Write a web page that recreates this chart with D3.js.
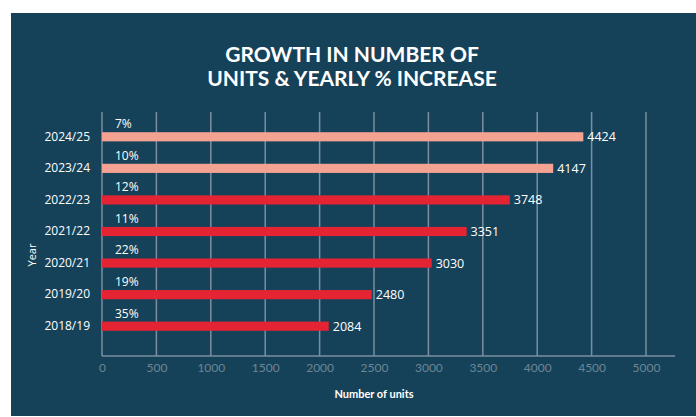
<!DOCTYPE html>
<html><head><meta charset="utf-8">
<script src="https://cdn.jsdelivr.net/npm/d3@7"></script>
<style>body{margin:0;background:#fff}svg{display:block}</style>
</head><body>
<svg id="c" width="696" height="417"></svg>
<script>
const years = ["2024/25","2023/24","2022/23","2021/22","2020/21","2019/20","2018/19"];
const units = [4424,4147,3748,3351,3030,2480,2084];
const pctIncrease = ["7%","10%","12%","11%","22%","19%","35%"];
const projected = [true,true,false,false,false,false,false];
const xTicks = [0,500,1000,1500,2000,2500,3000,3500,4000,4500,5000];
const titleLines = ["GROWTH IN NUMBER OF","UNITS & YEARLY % INCREASE"];

const svg = d3.select("#c");
svg.append("rect").attr("x",11).attr("y",13).attr("width",685).attr("height",403).attr("fill","#164259");

const x = d3.scaleLinear().domain([0,5000]).range([102,646]);
const y = d3.scaleBand().domain(years).range([121,342]).paddingInner(0.71).paddingOuter(0.355);

// title
svg.append("g").selectAll("text").data(titleLines).join("text")
  .attr("x",352).attr("y",(d,i)=>62+i*24).attr("text-anchor","middle")
  .attr("fill","#fff").attr("font-family","Lato, 'Open Sans', sans-serif")
  .attr("font-weight","700").attr("font-size",21).text(d=>d);

// gridlines
svg.append("g").selectAll("line").data(xTicks).join("line")
  .attr("x1",d=>x(d)).attr("x2",d=>x(d)).attr("y1",112).attr("y2",356)
  .attr("stroke","#7b8fa0").attr("stroke-width",1.5);

// axis
const ax = svg.append("g").attr("transform","translate(0,356)")
  .call(d3.axisBottom(x).tickValues(xTicks).tickSize(0).tickPadding(7).tickFormat(d3.format("d")));
ax.select(".domain").attr("d","M102,0H675").attr("stroke","#7b8fa0").attr("stroke-width",1.5);
ax.selectAll("text").attr("fill","#6c8596").attr("font-family","Lato, sans-serif").attr("font-size",12);

svg.append("text").attr("x",374).attr("y",398).attr("text-anchor","middle")
  .attr("fill","#fff").attr("font-family","Lato, sans-serif").attr("font-weight","700")
  .attr("font-size",11).text("Number of units");

// y labels
const ya = svg.append("g").attr("transform","translate(90,0)")
  .call(d3.axisLeft(y).tickSize(0).tickPadding(0));
ya.select(".domain").remove();
ya.selectAll("text").attr("fill","#fff").attr("font-family","'Open Sans', sans-serif").attr("font-size",12);

svg.append("text").attr("transform","translate(36,255) rotate(-90)").attr("text-anchor","middle")
  .attr("fill","#fff").attr("font-family","'Open Sans', sans-serif").attr("font-size",11).text("Year");

// bars
svg.append("g").selectAll("rect").data(years).join("rect")
  .attr("x",x(0)).attr("y",d=>y(d)).attr("height",y.bandwidth())
  .attr("width",(d,i)=>x(units[i])-x(0))
  .attr("fill",(d,i)=>projected[i]?"#f4a292":"#e52433");

// value labels
svg.append("g").selectAll("text").data(years).join("text")
  .attr("x",(d,i)=>x(units[i])+4).attr("y",d=>y(d)+y.bandwidth()/2).attr("dy","0.36em")
  .attr("fill","#fff").attr("font-family","'Open Sans', sans-serif").attr("font-size",12.5)
  .text((d,i)=>units[i]);

// pct labels
svg.append("g").selectAll("text").data(years).join("text")
  .attr("x",115).attr("y",d=>y(d)-4)
  .attr("fill","#fff").attr("font-family","'Open Sans', sans-serif").attr("font-size",12)
  .text((d,i)=>pctIncrease[i]);
</script>
</body></html>
